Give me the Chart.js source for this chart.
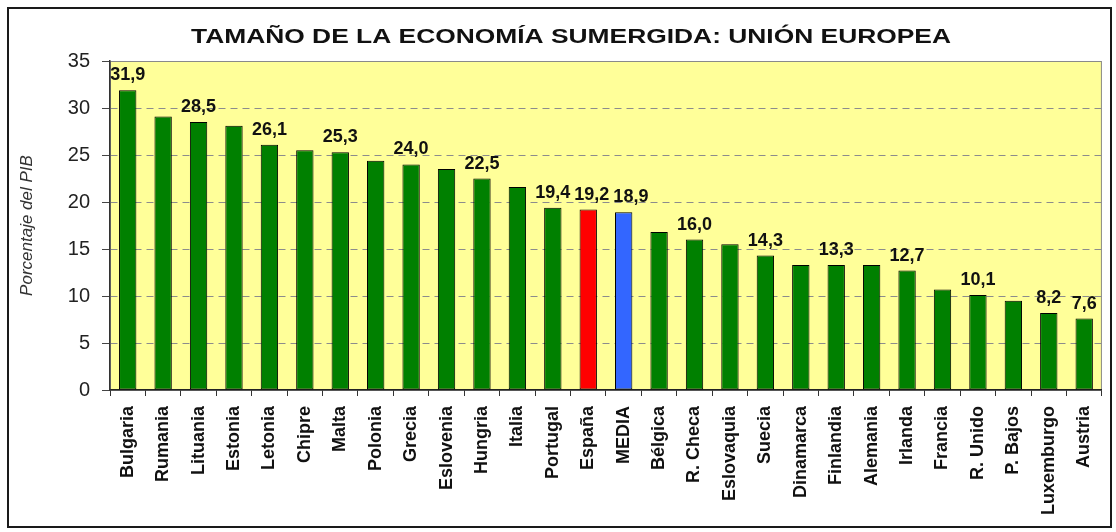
<!DOCTYPE html>
<html>
<head>
    <title>Economía sumergida UE</title>
    <script src="https://cdn.jsdelivr.net/npm/chart.js"></script>
    <style>
        body { margin: 0; background: #fff; }
    </style>
</head>
<body>
    <canvas id="myChart" width="1116" height="532"></canvas>
    <script>
const titulo = 'TAMAÑO DE LA ECONOMÍA SUMERGIDA: UNIÓN EUROPEA';
const ejeY = 'Porcentaje del PIB';

const paises = ['Bulgaria', 'Rumania', 'Lituania', 'Estonia', 'Letonia', 'Chipre', 'Malta',
    'Polonia', 'Grecia', 'Eslovenia', 'Hungria', 'Italia', 'Portugal', 'España', 'MEDIA',
    'Bélgica', 'R. Checa', 'Eslovaquia', 'Suecia', 'Dinamarca', 'Finlandia', 'Alemania',
    'Irlanda', 'Francia', 'R. Unido', 'P. Bajos', 'Luxemburgo', 'Austria'];

const valores = [31.9, 29.1, 28.5, 28.1, 26.1, 25.5, 25.3,
    24.4, 24.0, 23.5, 22.5, 21.6, 19.4, 19.2, 18.9,
    16.8, 16.0, 15.5, 14.3, 13.3, 13.3, 13.3,
    12.7, 10.7, 10.1, 9.5, 8.2, 7.6];

// barras que llevan su valor escrito encima
const conEtiqueta = ['Bulgaria', 'Lituania', 'Letonia', 'Malta', 'Grecia', 'Hungria',
    'Portugal', 'España', 'MEDIA', 'R. Checa', 'Suecia', 'Finlandia', 'Irlanda',
    'R. Unido', 'Luxemburgo', 'Austria'];

const yMin = 0, yMax = 35, yPaso = 5;

const fuente = "'Liberation Sans', Arial, sans-serif";
const colores = paises.map(p => p === 'España' ? '#ff0000' : p === 'MEDIA' ? '#3366ff' : '#008000');

const ctx = document.getElementById('myChart').getContext('2d');

const fondo = {
    id: 'fondo',
    beforeDraw(chart) {
        const { ctx, chartArea: a } = chart;
        ctx.save();
        ctx.fillStyle = '#fff';
        ctx.fillRect(0, 0, chart.width, chart.height);
        ctx.strokeStyle = '#1a1a1a';
        ctx.lineWidth = 2;
        ctx.strokeRect(8, 8, 1103, 519);
        ctx.fillStyle = '#ffff99';
        ctx.fillRect(a.left, a.top, a.width, a.height);
        ctx.strokeStyle = '#8a8a8a';
        ctx.lineWidth = 1;
        ctx.strokeRect(a.left + 0.5, a.top + 0.5, a.width - 1, a.height);

        // título, algo ensanchado como en el original
        ctx.font = 'bold 21px ' + fuente;
        ctx.fillStyle = '#111';
        ctx.textAlign = 'center';
        ctx.textBaseline = 'middle';
        const sx = 760 / ctx.measureText(titulo).width;
        ctx.translate(571, 37);
        ctx.scale(sx, 1);
        ctx.fillText(titulo, 0, 0);
        ctx.restore();
    }
};

const etiquetas = {
    id: 'etiquetas',
    afterDatasetsDraw(chart) {
        const { ctx } = chart;
        const meta = chart.getDatasetMeta(0);
        ctx.save();
        ctx.font = 'bold 18px ' + fuente;
        ctx.fillStyle = '#111';
        ctx.textAlign = 'center';
        ctx.textBaseline = 'alphabetic';
        let finAnterior = -Infinity;
        meta.data.forEach((bar, i) => {
            if (!conEtiqueta.includes(paises[i])) return;
            const txt = valores[i].toFixed(1).replace('.', ',');
            const w = ctx.measureText(txt).width;
            let x = bar.x;
            // si se pisa con la anterior, se corre a la derecha
            if (x - w / 2 < finAnterior + 4) x = finAnterior + 4 + w / 2;
            ctx.fillText(txt, x, bar.y - 10);
            finAnterior = x + w / 2;
        });
        ctx.restore();
    }
};

new Chart(ctx, {
    type: 'bar',
    data: {
        labels: paises,
        datasets: [{
            data: valores,
            backgroundColor: colores,
            borderColor: '#000',
            borderWidth: 1,
            borderSkipped: false,
            barPercentage: 0.49,
            categoryPercentage: 1
        }]
    },
    options: {
        responsive: false,
        animation: false,
        devicePixelRatio: 1,
        layout: { padding: { top: 61, left: 8, right: 11, bottom: 0 } },
        plugins: {
            legend: { display: false },
            tooltip: { enabled: false }
        },
        scales: {
            x: {
                grid: { offset: true, drawOnChartArea: false, tickLength: 6, color: '#333', tickColor: '#333' },
                border: { color: '#222', width: 1.5 },
                ticks: {
                    autoSkip: false,
                    minRotation: 90,
                    maxRotation: 90,
                    padding: 10,
                    color: '#111',
                    font: { family: fuente, size: 18, weight: 'bold' }
                },
                afterFit(s) { s.height = 142; }
            },
            y: {
                min: yMin,
                max: yMax,
                ticks: {
                    stepSize: yPaso,
                    padding: 12,
                    color: '#222',
                    font: { family: fuente, size: 20 }
                },
                grid: {
                    color: c => (c.tick.value === yMin || c.tick.value === yMax) ? 'rgba(0,0,0,0)' : '#8c8c8c',
                    tickColor: '#444',
                    tickLength: 8,
                    tickBorderDash: []
                },
                border: { color: '#333', width: 1.5, dash: [7, 5] },
                title: {
                    display: true,
                    text: ejeY,
                    color: '#333',
                    padding: { top: 9, bottom: 0 },
                    font: { family: fuente, size: 17, style: 'italic' }
                },
                afterFit(s) { s.width = 102; }
            }
        }
    },
    plugins: [fondo, etiquetas]
});
    </script>
</body>
</html>
